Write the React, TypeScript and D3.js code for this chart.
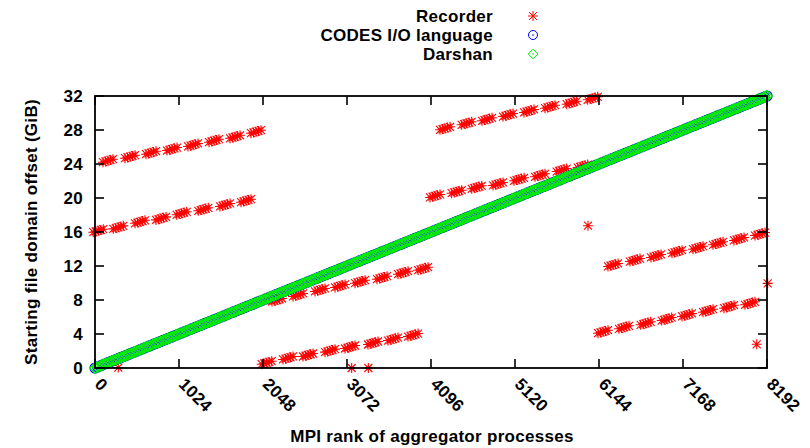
import React from 'react';
import * as d3 from 'd3';

const xTicks = [0, 1024, 2048, 3072, 4096, 5120, 6144, 7168, 8192];
const yTicks = [0, 4, 8, 12, 16, 20, 24, 28, 32];

const seriesNames = ['Recorder', 'CODES I/O language', 'Darshan'];

// Recorder: clustered groups of aggregators (rank, starting offset GiB)
const recorderClusterRanks = [
  40, 284, 549, 805, 1057, 1320, 1585, 1841,
  158, 427, 683, 939, 1195, 1451, 1707, 1963,
  2093, 2353, 2597, 2865, 3109, 3389, 3633, 3877,
  2219, 2475, 2743, 2987, 3231, 3499, 3755, 3999,
  4145, 4409, 4653, 4913, 5169, 5425, 5689, 5945,
  4267, 4531, 4779, 5035, 5291, 5547, 5811, 6067,
  6193, 6449, 6713, 6969, 7217, 7473, 7729, 7985,
  6315, 6583, 6839, 7095, 7351, 7595, 7851, 8107,
];
const recorderClusterOffsets = [
  16.15, 16.55, 17.2, 17.6, 18.2, 18.67, 19.18, 19.68,
  24.39, 24.86, 25.33, 25.76, 26.24, 26.74, 27.2, 27.8,
  0.62, 1.18, 1.53, 2.04, 2.47, 2.94, 3.41, 3.88,
  8.0, 8.59, 9.18, 9.65, 10.15, 10.62, 11.21, 11.68,
  20.24, 20.74, 21.26, 21.65, 22.2, 22.67, 23.29, 23.76,
  28.2, 28.79, 29.26, 29.76, 30.24, 30.74, 31.21, 31.73,
  4.27, 4.79, 5.26, 5.76, 6.24, 6.74, 7.21, 7.61,
  12.12, 12.7, 13.18, 13.68, 14.15, 14.67, 15.18, 15.76,
];
// Recorder: isolated single aggregators
const recorderSingleRanks = [284, 3129, 3332, 6010, 8067, 8200];
const recorderSingleOffsets = [0.05, 0, 0, 16.74, 2.79, 9.96];

// CODES I/O language and Darshan: identical diagonal
const diagonalRanks = [
  0, 32, 64, 96, 128, 160, 192, 224, 256, 288, 320, 352, 384, 416, 448, 480,
  512, 544, 576, 608, 640, 672, 704, 736, 768, 800, 832, 864, 896, 928, 960, 992,
  1024, 1056, 1088, 1120, 1152, 1184, 1216, 1248, 1280, 1312, 1344, 1376, 1408, 1440, 1472, 1504,
  1536, 1568, 1600, 1632, 1664, 1696, 1728, 1760, 1792, 1824, 1856, 1888, 1920, 1952, 1984, 2016,
  2048, 2080, 2112, 2144, 2176, 2208, 2240, 2272, 2304, 2336, 2368, 2400, 2432, 2464, 2496, 2528,
  2560, 2592, 2624, 2656, 2688, 2720, 2752, 2784, 2816, 2848, 2880, 2912, 2944, 2976, 3008, 3040,
  3072, 3104, 3136, 3168, 3200, 3232, 3264, 3296, 3328, 3360, 3392, 3424, 3456, 3488, 3520, 3552,
  3584, 3616, 3648, 3680, 3712, 3744, 3776, 3808, 3840, 3872, 3904, 3936, 3968, 4000, 4032, 4064,
  4096, 4128, 4160, 4192, 4224, 4256, 4288, 4320, 4352, 4384, 4416, 4448, 4480, 4512, 4544, 4576,
  4608, 4640, 4672, 4704, 4736, 4768, 4800, 4832, 4864, 4896, 4928, 4960, 4992, 5024, 5056, 5088,
  5120, 5152, 5184, 5216, 5248, 5280, 5312, 5344, 5376, 5408, 5440, 5472, 5504, 5536, 5568, 5600,
  5632, 5664, 5696, 5728, 5760, 5792, 5824, 5856, 5888, 5920, 5952, 5984, 6016, 6048, 6080, 6112,
  6144, 6176, 6208, 6240, 6272, 6304, 6336, 6368, 6400, 6432, 6464, 6496, 6528, 6560, 6592, 6624,
  6656, 6688, 6720, 6752, 6784, 6816, 6848, 6880, 6912, 6944, 6976, 7008, 7040, 7072, 7104, 7136,
  7168, 7200, 7232, 7264, 7296, 7328, 7360, 7392, 7424, 7456, 7488, 7520, 7552, 7584, 7616, 7648,
  7680, 7712, 7744, 7776, 7808, 7840, 7872, 7904, 7936, 7968, 8000, 8032, 8064, 8096, 8128, 8160,
  8192,
];
const diagonalOffsets = [
  0, 0.125, 0.25, 0.375, 0.5, 0.625, 0.75, 0.875, 1, 1.125, 1.25, 1.375, 1.5, 1.625, 1.75, 1.875,
  2, 2.125, 2.25, 2.375, 2.5, 2.625, 2.75, 2.875, 3, 3.125, 3.25, 3.375, 3.5, 3.625, 3.75, 3.875,
  4, 4.125, 4.25, 4.375, 4.5, 4.625, 4.75, 4.875, 5, 5.125, 5.25, 5.375, 5.5, 5.625, 5.75, 5.875,
  6, 6.125, 6.25, 6.375, 6.5, 6.625, 6.75, 6.875, 7, 7.125, 7.25, 7.375, 7.5, 7.625, 7.75, 7.875,
  8, 8.125, 8.25, 8.375, 8.5, 8.625, 8.75, 8.875, 9, 9.125, 9.25, 9.375, 9.5, 9.625, 9.75, 9.875,
  10, 10.125, 10.25, 10.375, 10.5, 10.625, 10.75, 10.875, 11, 11.125, 11.25, 11.375, 11.5, 11.625, 11.75, 11.875,
  12, 12.125, 12.25, 12.375, 12.5, 12.625, 12.75, 12.875, 13, 13.125, 13.25, 13.375, 13.5, 13.625, 13.75, 13.875,
  14, 14.125, 14.25, 14.375, 14.5, 14.625, 14.75, 14.875, 15, 15.125, 15.25, 15.375, 15.5, 15.625, 15.75, 15.875,
  16, 16.125, 16.25, 16.375, 16.5, 16.625, 16.75, 16.875, 17, 17.125, 17.25, 17.375, 17.5, 17.625, 17.75, 17.875,
  18, 18.125, 18.25, 18.375, 18.5, 18.625, 18.75, 18.875, 19, 19.125, 19.25, 19.375, 19.5, 19.625, 19.75, 19.875,
  20, 20.125, 20.25, 20.375, 20.5, 20.625, 20.75, 20.875, 21, 21.125, 21.25, 21.375, 21.5, 21.625, 21.75, 21.875,
  22, 22.125, 22.25, 22.375, 22.5, 22.625, 22.75, 22.875, 23, 23.125, 23.25, 23.375, 23.5, 23.625, 23.75, 23.875,
  24, 24.125, 24.25, 24.375, 24.5, 24.625, 24.75, 24.875, 25, 25.125, 25.25, 25.375, 25.5, 25.625, 25.75, 25.875,
  26, 26.125, 26.25, 26.375, 26.5, 26.625, 26.75, 26.875, 27, 27.125, 27.25, 27.375, 27.5, 27.625, 27.75, 27.875,
  28, 28.125, 28.25, 28.375, 28.5, 28.625, 28.75, 28.875, 29, 29.125, 29.25, 29.375, 29.5, 29.625, 29.75, 29.875,
  30, 30.125, 30.25, 30.375, 30.5, 30.625, 30.75, 30.875, 31, 31.125, 31.25, 31.375, 31.5, 31.625, 31.75, 31.875,
  32,
];

const RED = '#ff0000';
const BLUE = '#0000ff';
const GREEN = '#00ee00';
const FONT = '"Liberation Sans", Arial, Helvetica, sans-serif';

const STAR = 'M-5,0H5M0,-5V5M-4,-4L4,4M-4,4L4,-4';
const CLUSTER_SPREAD = [-5, -2.5, 0, 2.5, 5];
const DIAMOND = (h: number) => `M0,${-h}L${h},0L0,${h}L${-h},0Z`;

export default function App() {
  const W = 810;
  const H = 448;
  const left = 95, right = 767, top = 96, bottom = 368;
  const x = d3.scaleLinear().domain([0, 8192]).range([left, right]);
  const y = d3.scaleLinear().domain([0, 32]).range([bottom, top]);
  const tickLen = 9;
  const textStyle: React.CSSProperties = { fontFamily: FONT, fontSize: 17, fontWeight: 'bold', letterSpacing: 0.3 };

  return (
    <svg width={W} height={H} viewBox={`0 0 ${W} ${H}`} style={{ display: 'block', background: '#fff' }}>
      <style>{`body{margin:0}`}</style>
      <rect x={0} y={0} width={W} height={H} fill="#fff" />

      {/* Recorder clusters */}
      <g stroke={RED} strokeWidth={1.1} fill="none">
        {recorderClusterRanks.map((r, i) => (
          <g key={'c' + i} transform={`translate(${x(r)},${y(recorderClusterOffsets[i])})`}>
            {CLUSTER_SPREAD.map((d, j) => (
              <path key={j} d={STAR} transform={`translate(${d},${-0.3 * d})`} />
            ))}
          </g>
        ))}
        {recorderSingleRanks.map((r, i) => (
          <path key={'s' + i} d={STAR} transform={`translate(${x(r)},${y(recorderSingleOffsets[i])})`} />
        ))}
      </g>

      {/* CODES I/O language */}
      <g stroke={BLUE} strokeWidth={1.2} fill="none">
        {diagonalRanks.map((r, i) => (
          <circle key={i} cx={x(r)} cy={y(diagonalOffsets[i])} r={5} />
        ))}
      </g>
      {/* Darshan */}
      <g stroke={GREEN} strokeWidth={1.4} fill="none">
        {diagonalRanks.map((r, i) => (
          <path key={i} d={DIAMOND(5.2)} transform={`translate(${x(r)},${y(diagonalOffsets[i])})`} />
        ))}
      </g>

      {/* ticks */}
      <g stroke="#000" strokeWidth={1.6}>
        {xTicks.map((t) => (
          <g key={'xt' + t}>
            <line x1={x(t)} x2={x(t)} y1={bottom} y2={bottom - tickLen} />
            <line x1={x(t)} x2={x(t)} y1={top} y2={top + tickLen} />
          </g>
        ))}
        {yTicks.map((t) => (
          <g key={'yt' + t}>
            <line x1={left} x2={left + tickLen} y1={y(t)} y2={y(t)} />
            <line x1={right} x2={right - tickLen} y1={y(t)} y2={y(t)} />
          </g>
        ))}
      </g>
      <rect x={left} y={top} width={right - left} height={bottom - top} fill="none" stroke="#000" strokeWidth={1.8} />

      {/* tick labels */}
      <g style={textStyle} fill="#000">
        {yTicks.map((t) => (
          <text key={'yl' + t} x={83} y={y(t)} dy="0.36em" textAnchor="end">{t}</text>
        ))}
        {xTicks.map((t) => (
          <text key={'xl' + t} transform={`translate(${x(t) + 3},${bottom + 13}) rotate(45)`} dy="0.36em" textAnchor="start">{t}</text>
        ))}
      </g>

      {/* axis titles */}
      <text style={textStyle} x={(left + right) / 2 + 1} y={442} textAnchor="middle">MPI rank of aggregator processes</text>
      <text style={textStyle} transform={`translate(37,${(top + bottom) / 2}) rotate(-90)`} textAnchor="middle">Starting file domain offset (GiB)</text>

      {/* legend */}
      <g style={textStyle}>
        {seriesNames.map((n, i) => (
          <text key={n} x={493} y={16 + i * 19} dy="0.36em" textAnchor="end">{n}</text>
        ))}
      </g>
      <path d={STAR} transform="translate(533,16)" stroke={RED} strokeWidth={1} fill="none" />
      <circle cx={533} cy={35} r={4.5} stroke={BLUE} strokeWidth={1} fill="none" />
      <circle cx={533} cy={35} r={0.8} fill={BLUE} />
      <path d={DIAMOND(4.8)} transform="translate(533,54)" stroke={GREEN} strokeWidth={1} fill="none" />
      <circle cx={533} cy={54} r={0.8} fill={GREEN} />
    </svg>
  );
}
